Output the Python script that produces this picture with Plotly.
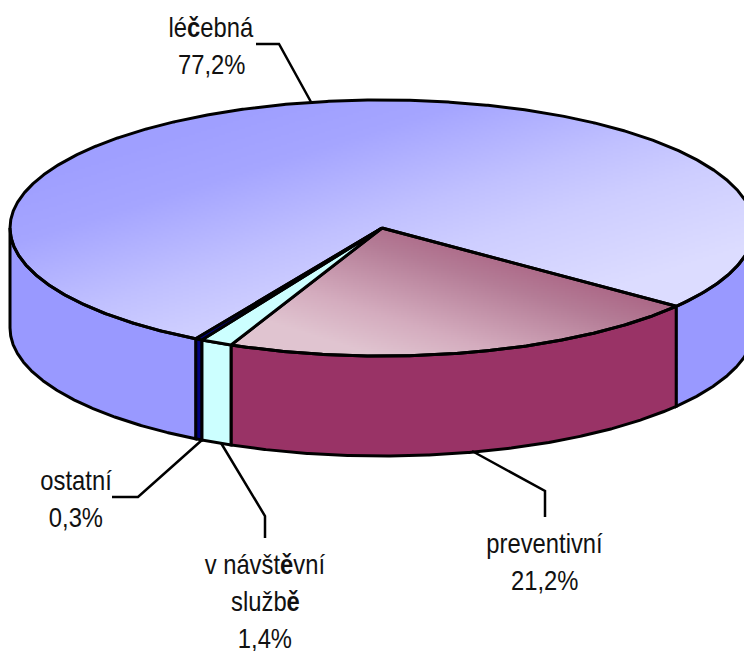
import numpy as np
import plotly.graph_objects as go

# ---- data ----
categories = ["preventivní", "v návštěvní službě", "ostatní", "léčebná"]
values = [21.2, 1.4, 0.3, 77.2]
value_labels = ["21,2%", "1,4%", "0,3%", "77,2%"]
side_colors = ["#993366", "#CCFFFF", "#000080", "#9999FF"]
top_colors = [None, "#CCFFFF", "#000080", None]

# ---- geometry of the drawing (pixel-like axis units) ----
W, H = 744, 651
CX, CY, RX, RY, DEPTH = 382, 228, 372, 128, 100
START_DEG = 37.7
LW = 3.0
INK = "#000000"

shares = np.array(values) / sum(values)
edges = START_DEG + 360 * np.concatenate([[0], np.cumsum(shares)])


def arc(a, b, dy=0.0, step=0.25):
    n = max(int(abs(b - a) / step), 2)
    t = np.radians(np.linspace(a, b, n))
    return CX + RX * np.cos(t), CY + dy + RY * np.sin(t)


def top_poly(a, b):
    x, y = arc(a, b)
    return np.r_[CX, x, CX], np.r_[CY, y, CY]


def side_poly(a, b):
    x1, y1 = arc(a, b)
    x2, y2 = arc(b, a, DEPTH)
    return np.r_[x1, x2, x1[0]], np.r_[y1, y2, y1[0]]


gx = np.arange(0, W + 2, 2.0)
gy = np.arange(90, 364, 2.0)
XX, YY = np.meshgrid(gx, gy)
theta = np.degrees(np.arctan2((YY - CY) / RY, (XX - CX) / RX)) % 360
inside = ((XX - CX) / RX) ** 2 + ((YY - CY) / RY) ** 2 <= 1.0


def wedge_mask(a, b):
    rel = (theta - a) % 360
    return inside & (rel <= (b - a) + 0.6)


def grad_layer(i, proj, lo, hi, scale):
    m = wedge_mask(edges[i], edges[i + 1])
    z = np.round(np.clip((proj - lo) / (hi - lo), 0, 1), 3)
    z = np.where(m, z, np.nan)
    return go.Heatmap(x=gx, y=gy, z=z.tolist(), colorscale=scale, zmin=0, zmax=1,
                      showscale=False, hoverinfo="skip", zsmooth=False)


fig = go.Figure()

# gradient tops of the two large slices
fig.add_trace(grad_layer(3, 0.09 * XX + 0.29 * YY, 55, 139,
                         [[0, "#9F9FFF"], [0.2, "#A5A5FF"], [0.5, "#C0C0FF"],
                          [0.68, "#CDCDFF"], [1, "#DCDCFF"]]))
fig.add_trace(grad_layer(0, -0.3 * XX + 0.95 * YY, 65, 225,
                         [[0, "#A5577A"], [0.35, "#B47C96"], [0.75, "#D4ACBE"], [1, "#E0C4D0"]]))

# visible side walls
for i, (a, b) in enumerate(zip(edges[:-1], edges[1:])):
    for lo, hi in ((a, min(b, 180.0)), (max(a, 360.0), min(b, 360.0 + START_DEG))):
        if hi <= lo:
            continue
        x, y = side_poly(lo, hi)
        fig.add_trace(go.Scatter(x=x, y=y, mode="lines", fill="toself", fillcolor=side_colors[i],
                                 line=dict(color=INK, width=LW), hoverinfo="skip"))

# top outlines (solid fill for the narrow slices)
for i in (3, 0, 1, 2):
    x, y = top_poly(edges[i], edges[i + 1])
    kw = dict(fill="toself", fillcolor=top_colors[i]) if top_colors[i] else {}
    fig.add_trace(go.Scatter(x=x, y=y, mode="lines", line=dict(color=INK, width=LW),
                             hoverinfo="skip", **kw))

# leader lines
leaders = [
    ([472, 545, 545], [451, 491, 517]),
    ([221, 265, 265], [443, 516, 538]),
    ([202, 138, 112], [440, 497, 497]),
    ([256, 279, 311], [44, 44, 102]),
]
for lx, ly in leaders:
    fig.add_trace(go.Scatter(x=lx, y=ly, mode="lines", line=dict(color=INK, width=2.5),
                             hoverinfo="skip"))

# labels
label_lines = [
    ["preventivní", value_labels[0]],
    ["v návšt<b>ě</b>vní", "služb<b>ě</b>", value_labels[1]],
    ["ostatní", value_labels[2]],
    ["lé<b>č</b>ebná", value_labels[3]],
]
label_anchor = [(544, 543), (265, 564), (76, 480), (211, 27)]
LINE_STEP = 37
for lines, (ax, ay) in zip(label_lines, label_anchor):
    for k, s in enumerate(lines):
        fig.add_annotation(x=ax, y=ay + k * LINE_STEP, text=s, showarrow=False,
                           xanchor="center", yanchor="middle",
                           font=dict(family="Liberation Sans, Arial, sans-serif",
                                     size=28, color="#111111"))

fig.update_layout(
    width=W, height=H, margin=dict(l=0, r=0, t=0, b=0), showlegend=False,
    paper_bgcolor="white", plot_bgcolor="white",
    xaxis=dict(range=[0, W], visible=False, fixedrange=True),
    yaxis=dict(range=[H, 0], visible=False, fixedrange=True),
)

# page margin off; labels condensed horizontally like the reference's narrow type
post = """
document.body.style.margin='0';
document.documentElement.style.overflow='hidden';
document.querySelectorAll('.annotation-text').forEach(function(t){
  var b=t.getBBox(); var c=b.x+b.width/2;
  t.setAttribute('transform','translate('+c+',0) scale(0.85,1) translate('+(-c)+',0)');
});
"""
fig.write_html("out.html", config={"displayModeBar": False}, post_script=post)
